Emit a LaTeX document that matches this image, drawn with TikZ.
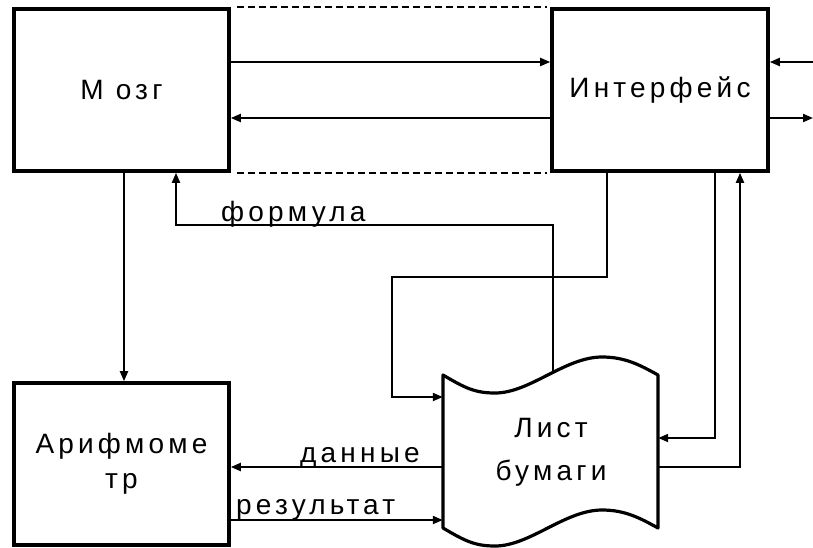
\documentclass[tikz,border=0pt]{standalone}
\usepackage{fontspec}
\setmainfont{Liberation Sans}[LetterSpace=15]
\usetikzlibrary{arrows.meta,calc}
\begin{document}
\begin{tikzpicture}[x=1pt,y=-1pt,
  blockbox/.style={draw,line width=3.6pt,minimum width=215pt,minimum height=162pt,inner sep=0pt,
    font=\fontsize{28}{35}\selectfont,align=center},
  conn/.style={line width=2pt},
  arr/.style={conn,-{Triangle[length=10pt,width=8pt]}},
  lbl/.style={inner sep=0pt,anchor=base west,font=\fontsize{28}{28}\selectfont},
  dashline/.style={line width=2pt,dash pattern=on 7pt off 4pt}]
\useasboundingbox (0,0) rectangle (813,547);
\node[blockbox] (mozg) at (121.5,90) {М озг};
\node[blockbox,minimum width=216pt] (intf) at (660,90) {Интерфейс};
\node[blockbox] (arif) at (121.5,464) {Арифмоме\\тр};
% sheet of paper
\node[minimum width=215pt,minimum height=153pt,inner sep=0pt] (sheet) at (550.5,451.5) {};
\draw[line width=3.2pt,line join=round]
  (443,375) .. controls (465,388) and (475,393) .. (495,393)
  .. controls (530,393) and (565,357) .. (602,357)
  .. controls (625,357) and (640,365) .. (658,375)
  -- (658,528)
  .. controls (640,518) and (625,510) .. (602,510)
  .. controls (565,510) and (530,546) .. (495,546)
  .. controls (475,546) and (465,541) .. (443,528) -- cycle;
\node[align=center,inner sep=0pt,font=\fontsize{28}{43}\selectfont] (sheettext) at (551,452) {Лист\\бумаги};
\coordinate (sheettop) at (553,371);
% dashed lines
\draw[dashline] (mozg.north east) ++(6,0) coordinate (d1) -- (intf.north west -| 547,0) coordinate (d2);
\draw[dashline] (mozg.south east) ++(6,0) coordinate (d3) -- (intf.south west -| 547,0) coordinate (d4);
% Mozg <-> Interface
\draw[arr] (mozg.east |- 0,62) -- (intf.west |- 0,62);
\draw[arr] (intf.west |- 0,118) -- (mozg.east |- 0,118);
% outside
\coordinate (inR) at (813,62);
\coordinate (outR) at (813,118);
\draw[arr] (inR) -- (intf.east |- inR);
\draw[arr] (intf.east |- outR) -- (outR);
% Mozg -> Arifmometr
\draw[arr] (mozg.south -| 124,0) -- (arif.north -| 124,0);
% formula
\draw[arr] (sheettop) -- (553,225) -- (176,225) -- (mozg.south -| 176,0);
\node[lbl] (lform) at (221,221) {формула};
% Interface -> sheet left
\draw[arr] (intf.south -| 607,0) -- (607,277) -- (392,277) -- (392,397) -- (sheet.west |- 0,397);
% Interface -> sheet right
\draw[arr] (intf.south -| 715,0) -- (715,438) -- (sheet.east |- 0,438);
% sheet -> Interface
\draw[arr] (sheet.east |- 0,467) -- (740,467) -- (intf.south -| 740,0);
% data / result
\draw[arr] (sheet.west |- 0,467) -- (arif.east |- 0,467);
\node[lbl] (ldata) at (300,462) {данные};
\draw[arr] (arif.east |- 0,520) -- (sheet.west |- 0,520);
\node[lbl] (lres) at (236,514) {результат};
\end{tikzpicture}
\end{document}
